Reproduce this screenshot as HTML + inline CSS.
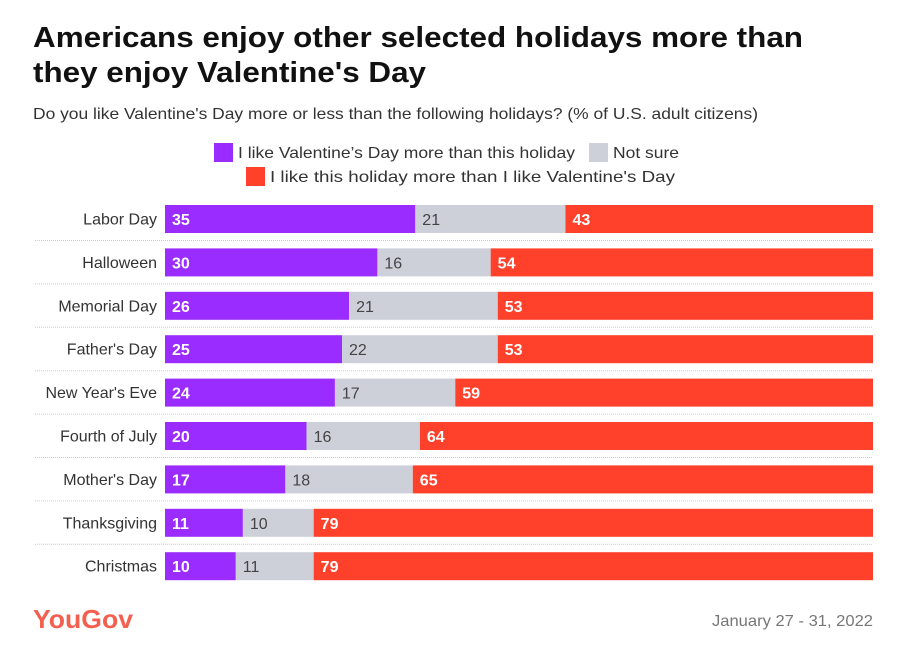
<!DOCTYPE html>
<html><head><meta charset="utf-8"><style>
body{margin:0;background:#fff;font-family:"Liberation Sans",sans-serif;}
svg text{font-family:"Liberation Sans",sans-serif;}
</style></head><body>
<svg id="chart" width="904" height="661" viewBox="0 0 904 661" xmlns="http://www.w3.org/2000/svg">
<text x="33" y="47" font-size="29" font-weight="bold" fill="#111" textLength="770" lengthAdjust="spacingAndGlyphs">Americans enjoy other selected holidays more than</text>
<text x="33" y="82" font-size="29" font-weight="bold" fill="#111" textLength="393" lengthAdjust="spacingAndGlyphs">they enjoy Valentine's Day</text>
<text x="33" y="119" font-size="16" fill="#333" textLength="725" lengthAdjust="spacingAndGlyphs">Do you like Valentine's Day more or less than the following holidays? (% of U.S. adult citizens)</text>
<g>
<rect x="214" y="143" width="19" height="19" fill="#9b2cff"/>
<text x="238" y="158" font-size="16" fill="#333" textLength="337" lengthAdjust="spacingAndGlyphs">I like Valentine’s Day more than this holiday</text>
<rect x="589" y="143" width="19" height="19" fill="#cdd0d9"/>
<text x="613" y="158" font-size="16" fill="#333" textLength="66" lengthAdjust="spacingAndGlyphs">Not sure</text>
<rect x="246" y="167" width="19" height="19" fill="#ff412c"/>
<text x="270" y="182" font-size="16" fill="#333" textLength="405" lengthAdjust="spacingAndGlyphs">I like this holiday more than I like Valentine's Day</text>
</g>
<g id="bars"></g>
<text x="33" y="628" font-size="26" font-weight="bold" fill="#f4604f" textLength="100" lengthAdjust="spacingAndGlyphs">YouGov</text>
<text x="873" y="626" font-size="16" fill="#777" text-anchor="end" textLength="161" lengthAdjust="spacingAndGlyphs">January 27 - 31, 2022</text>
</svg>
<script>
const categories=["Labor Day","Halloween","Memorial Day","Father's Day","New Year's Eve","Fourth of July","Mother's Day","Thanksgiving","Christmas"];
const moreValues=[35,30,26,25,24,20,17,11,10];
const notSureValues=[21,16,21,22,17,16,18,10,11];
const lessValues=[43,54,53,53,59,64,65,79,79];
const NS="http://www.w3.org/2000/svg";
const g=document.getElementById('bars');
const x0=165,x1=873,top0=205,step=43.4,bh=28;
function mk(t,a){const e=document.createElementNS(NS,t);for(const k in a)e.setAttribute(k,a[k]);return e;}
categories.forEach((c,i)=>{
  const y=top0+i*step;
  const total=moreValues[i]+notSureValues[i]+lessValues[i];
  const sx=v=>v/total*(x1-x0);
  const lab=mk('text',{x:157,y:y+bh/2+5.5,'font-size':16,fill:'#333','text-anchor':'end'});
  
  
  lab.textContent=c;g.appendChild(lab);
  if(i<categories.length-1){
    const ln=mk('line',{x1:35,x2:873,y1:y+bh+7.5,y2:y+bh+7.5,stroke:'#ccc','stroke-dasharray':'1 1'});
    
    
    g.appendChild(ln);
  }
  const segs=[[moreValues[i],'#9b2cff','#fff','bar-more'],[notSureValues[i],'#cdd0d9','#444','bar-not-sure'],[lessValues[i],'#ff412c','#fff','bar-less']];
  let x=x0;
  segs.forEach(s=>{
    const w=sx(s[0]);
    const r=mk('rect',{x:x,y:y,width:w,height:bh,fill:s[1]});
    
    
    g.appendChild(r);
    const t=mk('text',{x:x+7,y:y+bh/2+6,'font-size':16,fill:s[2],'font-weight':s[2]==='#fff'?'bold':'normal'});
    
    
    t.textContent=s[0];g.appendChild(t);
    x+=w;
  });
});
</script>
</body></html>
